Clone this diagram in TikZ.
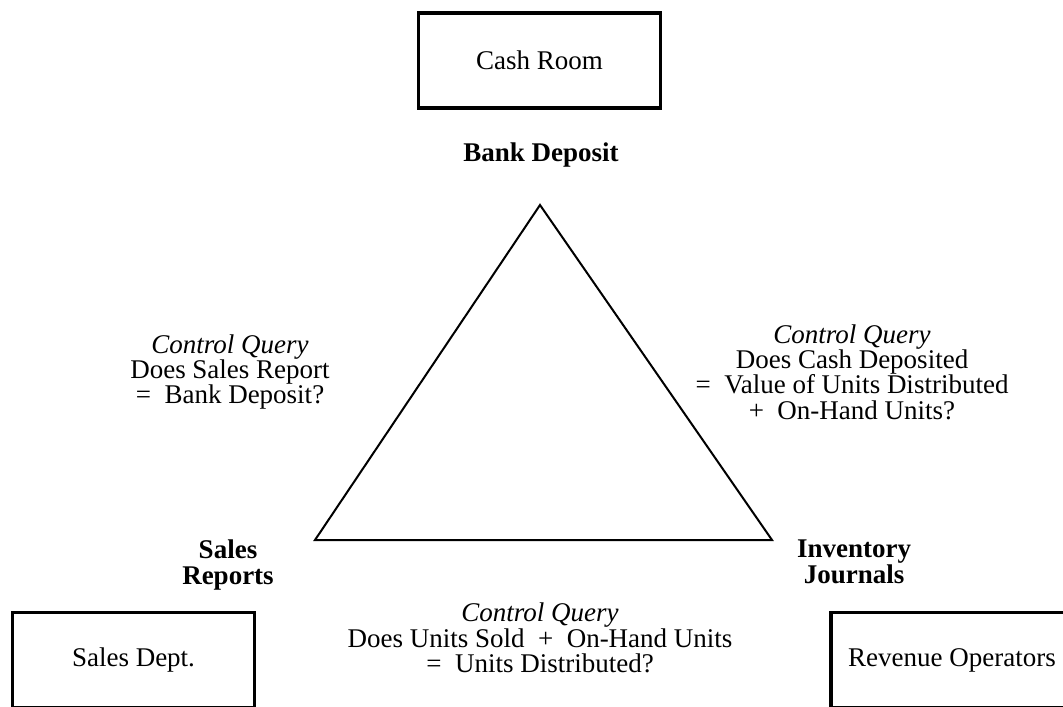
\documentclass[tikz,border=0pt]{standalone}
\usepackage{fontspec}
\setmainfont{Liberation Serif}
\usetikzlibrary{positioning}

\begin{document}
\begin{tikzpicture}[x=0.5pt, y=-0.5pt,
          every node/.style={font=\fontsize{13.5}{12.7}\selectfont, align=center, inner sep=0pt},
          box/.style={draw, line width=1.6pt, minimum width=121pt,
                      minimum height=47.5pt},
          tag/.style={font=\fontsize{13.5}{13}\selectfont\bfseries},
          side/.style={line width=1pt, line join=miter}]
        \useasboundingbox (0,0) rectangle (1063,706);
        \node[box] (cash)  at (539.5,60.5) {Cash Room};
        \node[box] (sales) at (133.5,660)  {Sales Dept.};
        \node[box] (rev)   at (952,660)    {Revenue Operators};
        \node[tag] (bank)  at (541,155)    {Bank Deposit};
        \node[tag] (rep)   at (228,565)    {Sales\\Reports};
        \node[tag] (jour)  at (854,562)    {Inventory\\Journals};
        \coordinate (top)   at (540,205);
        \coordinate (left)  at (315,540);
        \coordinate (right) at (772,540);
        \draw[side] (top) -- (right) -- (left) -- cycle;
        \node (qsales) at (230,372) {\textit{Control Query}\\Does Sales Report\\=\enspace Bank Deposit?};
        \node (qcash)  at (852,372) {\textit{Control Query}\\Does Cash Deposited\\=\enspace Value of Units Distributed\\+\enspace On-Hand Units?};
        \node (qunits) at (540,638) {\textit{Control Query}\\Does Units Sold\enspace+\enspace On-Hand Units\\=\enspace Units Distributed?};
      \end{tikzpicture}
\end{document}
